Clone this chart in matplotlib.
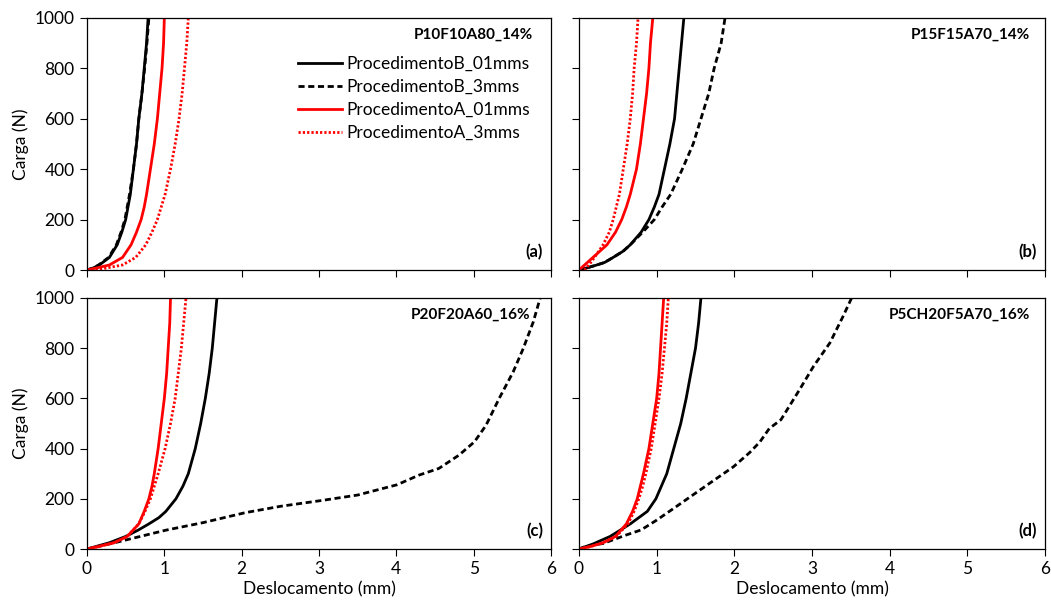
import matplotlib
matplotlib.use('Agg')
import matplotlib.pyplot as plt

plt.rcParams['font.family'] = ['Lato', 'DejaVu Sans']

# ---- dados (Deslocamento mm, Carga N) ----
# (a) P10F10A80_14%
a_b01_x = [0, 0.08, 0.16, 0.29, 0.39, 0.45, 0.5, 0.53, 0.56, 0.6, 0.64, 0.67, 0.71, 0.74, 0.77, 0.79]
a_b01_y = [0, 8, 20, 50, 100, 150, 200, 250, 300, 400, 500, 600, 700, 800, 900, 1000]
a_b3_x = [0, 0.08, 0.15, 0.28, 0.38, 0.44, 0.49, 0.52, 0.55, 0.6, 0.64, 0.67, 0.71, 0.745, 0.775, 0.80]
a_b3_y = [0, 8, 20, 50, 100, 150, 200, 250, 300, 400, 500, 600, 700, 800, 900, 1000]
a_a01_x = [0, 0.15, 0.29, 0.46, 0.57, 0.64, 0.7, 0.74, 0.77, 0.82, 0.87, 0.91, 0.94, 0.97, 0.99, 1.0]
a_a01_y = [0, 10, 20, 50, 100, 150, 200, 250, 300, 400, 500, 600, 700, 800, 900, 1000]
a_a3_x = [0, 0.2, 0.46, 0.63, 0.76, 0.84, 0.91, 0.96, 1.01, 1.08, 1.14, 1.19, 1.23, 1.26, 1.29, 1.31]
a_a3_y = [0, 5, 20, 50, 100, 150, 200, 250, 300, 400, 500, 600, 700, 800, 900, 1000]

# (b) P15F15A70_14%
b_b01_x = [0, 0.12, 0.23, 0.33, 0.44, 0.57, 0.66, 0.8, 0.9, 0.97, 1.03, 1.1, 1.17, 1.23, 1.26, 1.29, 1.32, 1.35]
b_b01_y = [0, 10, 20, 30, 50, 75, 100, 150, 200, 250, 300, 400, 500, 600, 700, 800, 900, 1000]
b_b3_x = [0, 0.12, 0.23, 0.33, 0.44, 0.57, 0.66, 0.82, 0.97, 1.07, 1.18, 1.33, 1.47, 1.57, 1.67, 1.74, 1.83, 1.88]
b_b3_y = [0, 10, 20, 30, 50, 75, 100, 150, 200, 250, 300, 400, 500, 600, 700, 800, 900, 1000]
b_a01_x = [0, 0.18, 0.36, 0.47, 0.55, 0.61, 0.66, 0.74, 0.79, 0.83, 0.87, 0.9, 0.92, 0.95]
b_a01_y = [0, 50, 100, 150, 200, 250, 300, 400, 500, 600, 700, 800, 900, 1000]
b_a3_x = [0.07, 0.14, 0.2, 0.31, 0.39, 0.44, 0.52, 0.57, 0.62, 0.66, 0.69, 0.71, 0.74, 0.76]
b_a3_y = [0, 25, 50, 100, 150, 200, 300, 400, 500, 600, 700, 800, 900, 1000]

# (c) P20F20A60_16%
c_b01_x = [0, 0.29, 0.5, 0.66, 0.8, 0.93, 1.02, 1.15, 1.24, 1.31, 1.4, 1.47, 1.53, 1.58, 1.62, 1.65, 1.68]
c_b01_y = [0, 25, 50, 75, 100, 125, 150, 200, 250, 300, 400, 500, 600, 700, 800, 900, 1000]
c_b3_x = [0, 0.37, 1.02, 1.5, 2.05, 2.5, 3.05, 3.5, 4.01, 4.29, 4.55, 4.81, 5.01, 5.16, 5.33,
          5.51, 5.64, 5.77, 5.86]
c_b3_y = [0, 26, 75, 105, 145, 170, 194, 215, 256, 294, 321, 374, 427, 493, 600,
          705, 798, 904, 1000]
c_a01_x = [0, 0.15, 0.35, 0.52, 0.67, 0.74, 0.8, 0.84, 0.87, 0.92, 0.96, 1.0, 1.03, 1.05, 1.07, 1.08]
c_a01_y = [0, 10, 25, 50, 100, 150, 200, 250, 300, 400, 500, 600, 700, 800, 900, 1000]
c_a3_x = [0, 0.15, 0.35, 0.52, 0.67, 0.75, 0.82, 0.87, 0.92, 1.01, 1.08, 1.14, 1.18, 1.22, 1.25, 1.28]
c_a3_y = [0, 10, 25, 50, 100, 150, 200, 250, 300, 400, 500, 600, 700, 800, 900, 1000]

# (d) P5CH20F5A70_16%
d_b01_x = [0, 0.18, 0.4, 0.66, 0.88, 0.99, 1.06, 1.13, 1.22, 1.31, 1.38, 1.44, 1.5, 1.54, 1.57]
d_b01_y = [0, 20, 50, 100, 150, 200, 250, 300, 400, 500, 600, 700, 800, 900, 1000]
d_b3_x = [0, 0.1, 0.31, 0.6, 0.8, 1.0, 1.22, 1.65, 1.99, 2.2, 2.33, 2.45, 2.6, 2.84, 3.02, 3.23, 3.4, 3.51]
d_b3_y = [0, 12, 22, 55, 76, 115, 162, 255, 328, 385, 427, 480, 515, 635, 728, 821, 927, 1000]
d_a01_x = [0, 0.15, 0.31, 0.47, 0.61, 0.69, 0.75, 0.79, 0.83, 0.9, 0.95, 1.0, 1.03, 1.05, 1.07, 1.09]
d_a01_y = [0, 10, 25, 50, 100, 150, 200, 250, 300, 400, 500, 600, 700, 800, 900, 1000]
d_a3_x = [0, 0.15, 0.31, 0.48, 0.63, 0.71, 0.77, 0.82, 0.86, 0.93, 0.98, 1.03, 1.07, 1.1, 1.13, 1.15]
d_a3_y = [0, 10, 25, 50, 100, 150, 200, 250, 300, 400, 500, 600, 700, 800, 900, 1000]

labels = ['ProcedimentoB_01mms', 'ProcedimentoB_3mms',
          'ProcedimentoA_01mms', 'ProcedimentoA_3mms']
titles = ['P10F10A80_14%', 'P15F15A70_14%', 'P20F20A60_16%', 'P5CH20F5A70_16%']
letters = ['(a)', '(b)', '(c)', '(d)']
x_ticks = [0, 1, 2, 3, 4, 5, 6]
y_ticks = [0, 200, 400, 600, 800, 1000]

panels = [
    [(a_b01_x, a_b01_y), (a_b3_x, a_b3_y), (a_a01_x, a_a01_y), (a_a3_x, a_a3_y)],
    [(b_b01_x, b_b01_y), (b_b3_x, b_b3_y), (b_a01_x, b_a01_y), (b_a3_x, b_a3_y)],
    [(c_b01_x, c_b01_y), (c_b3_x, c_b3_y), (c_a01_x, c_a01_y), (c_a3_x, c_a3_y)],
    [(d_b01_x, d_b01_y), (d_b3_x, d_b3_y), (d_a01_x, d_a01_y), (d_a3_x, d_a3_y)],
]

styles = [
    dict(color='black', linestyle='-'),
    dict(color='black', linestyle=(0, (2.2, 1.3))),
    dict(color='red', linestyle='-'),
    dict(color='red', linestyle=(0, (0.8, 0.75))),
]

W, H = 1051, 610
fig = plt.figure(figsize=(W / 100, H / 100), dpi=100)

# posicoes em pixels: left, right, top, bottom
boxes = [(87, 551, 18, 270), (579, 1045, 18, 270),
         (87, 551, 298, 549), (579, 1045, 298, 549)]
title_x = [0.961, 0.968, 0.955, 0.968]

for i, (l, r, t, b) in enumerate(boxes):
    ax = fig.add_axes([l / W, 1 - b / H, (r - l) / W, (b - t) / H])
    for (xs, ys), st, lab in zip(panels[i], styles, labels):
        ax.plot(xs, ys, linewidth=2.0, label=lab, solid_joinstyle='round', **st)
    ax.set_xlim(0, 6)
    ax.set_ylim(0, 1000)
    ax.set_xticks(x_ticks)
    ax.set_yticks(y_ticks)
    ax.tick_params(direction='out', length=5, width=0.8, labelsize=12.5, colors='black', pad=4)
    for sp in ax.spines.values():
        sp.set_linewidth(0.9)
        sp.set_color('black')
    if i < 2:
        ax.set_xticklabels([])
    else:
        ax.set_xlabel('Deslocamento (mm)', fontsize=12.5, labelpad=3)
    if i % 2 == 1:
        ax.set_yticklabels([])
    else:
        ax.set_ylabel('Carga (N)', fontsize=12.5, labelpad=4)
    ax.text(title_x[i], 0.933, titles[i], transform=ax.transAxes, ha='right', va='center',
            fontsize=11, fontweight='bold')
    ax.text(0.983, 0.07, letters[i], transform=ax.transAxes, ha='right', va='center',
            fontsize=12, fontweight='bold')
    if i == 0:
        ax.legend(loc='upper left', bbox_to_anchor=(0.455, 0.85), frameon=False,
                  fontsize=12.5, handlelength=2.5, handletextpad=0.3,
                  labelspacing=0.4, borderaxespad=0, borderpad=0)

fig.savefig('out.png', dpi=100)
